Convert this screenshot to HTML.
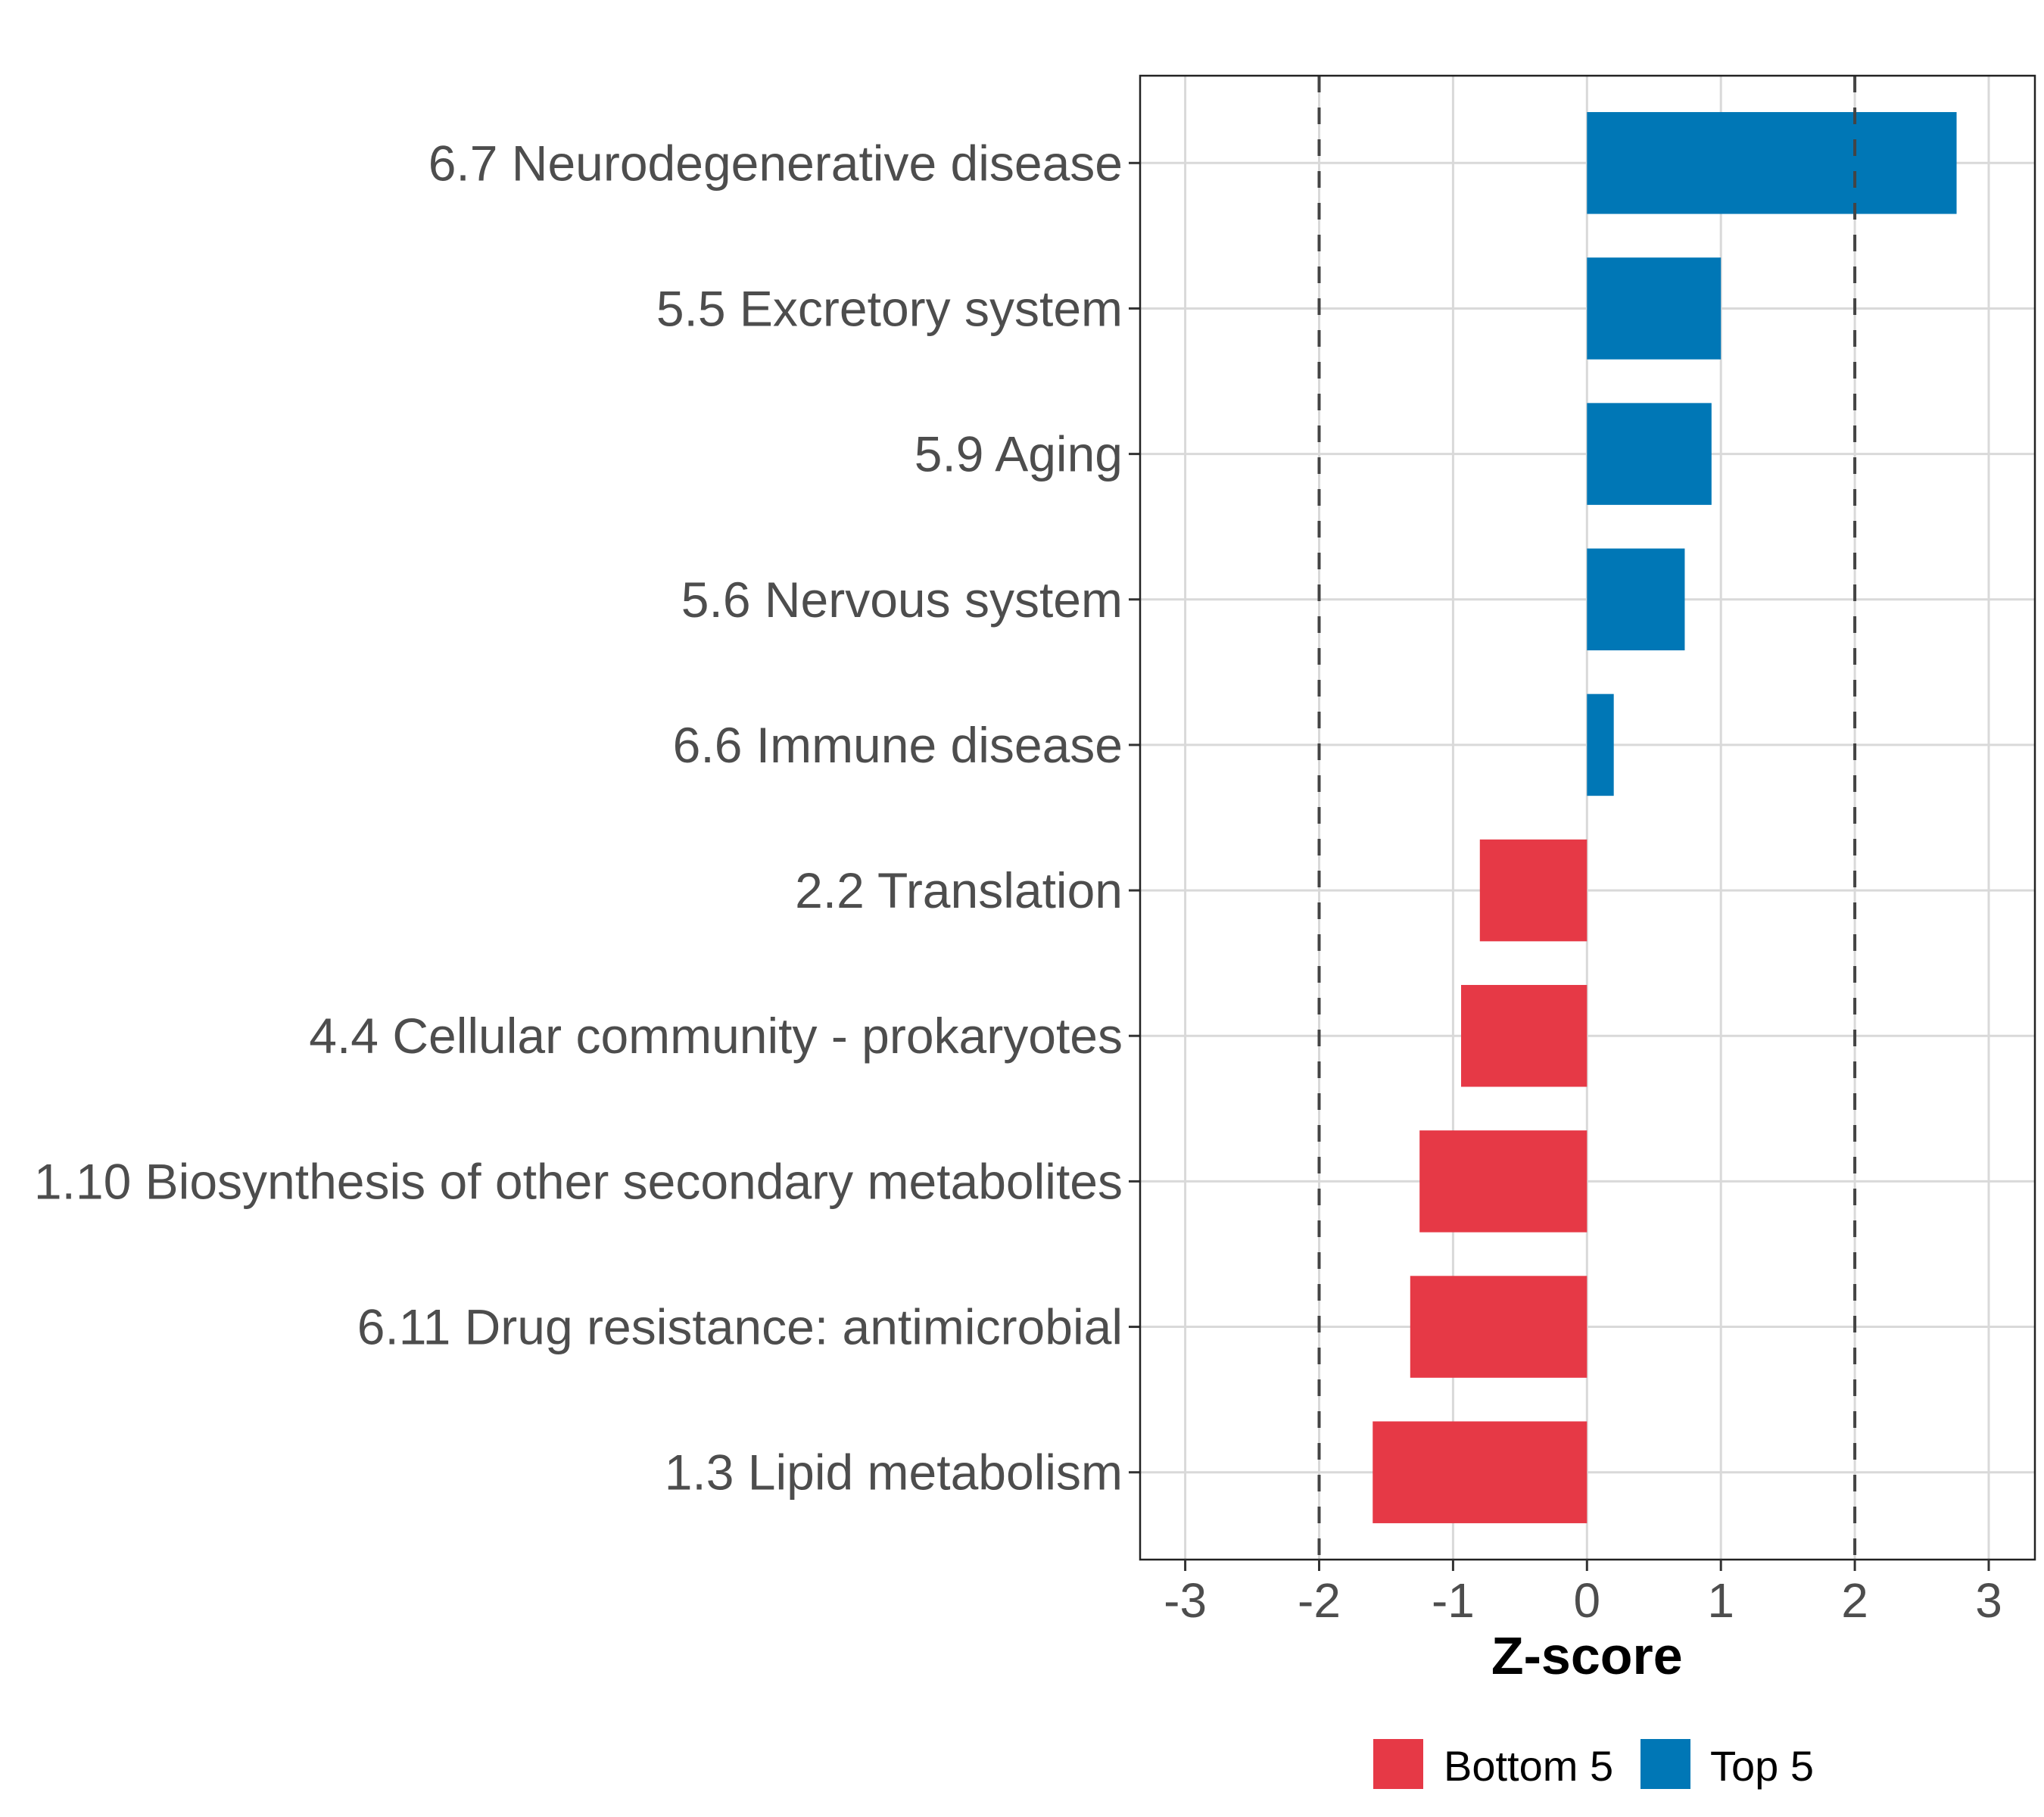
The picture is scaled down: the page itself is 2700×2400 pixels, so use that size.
<!DOCTYPE html>
<html><head><meta charset="utf-8"><style>body{margin:0;background:#fff}svg{display:block}</style></head>
<body>
<svg id="chart" width="2700" height="2400" xmlns="http://www.w3.org/2000/svg" font-family="Liberation Sans, sans-serif"></svg>
<script>
const categories = ["6.7 Neurodegenerative disease","5.5 Excretory system","5.9 Aging","5.6 Nervous system","6.6 Immune disease","2.2 Translation","4.4 Cellular community - prokaryotes","1.10 Biosynthesis of other secondary metabolites","6.11 Drug resistance: antimicrobial","1.3 Lipid metabolism"];
const zscores = [2.76, 1.0, 0.93, 0.73, 0.2, -0.80, -0.94, -1.25, -1.32, -1.60];
const groups = ["Top 5","Top 5","Top 5","Top 5","Top 5","Bottom 5","Bottom 5","Bottom 5","Bottom 5","Bottom 5"];
const xTicks = [-3,-2,-1,0,1,2,3];
const xTickLabels = ["-3","-2","-1","0","1","2","3"];
const thresholds = [-2, 2];
const legendLabels = ["Bottom 5","Top 5"];

const svg = document.getElementById('chart');
const NS = 'http://www.w3.org/2000/svg';
const L=1506,R=2688,T=100,B=2060;
const x0=2096.3, unit=176.9;
const xs = v => x0 + v*unit;
const band = (B-T)/(categories.length+0.2);
const ys = i => T + band*(0.6+i);
const colors = {"Top 5":"#0077b6","Bottom 5":"#e63946"};
function mk(tag, attrs, parent){const e=document.createElementNS(NS,tag);for(const k in attrs)e.setAttribute(k,attrs[k]);(parent||svg).appendChild(e);return e;}

const grid = mk('g',{});


xTicks.forEach(v=>{const l=mk('line',{x1:xs(v),x2:xs(v),y1:T,y2:B,stroke:'#d9d9d9','stroke-width':3},grid);

});
categories.forEach((c,i)=>{const l=mk('line',{x1:L,x2:R,y1:ys(i),y2:ys(i),stroke:'#d9d9d9','stroke-width':3},grid);

});

categories.forEach((c,i)=>{
  const v=zscores[i], h=band*0.7;
  const r=mk('rect',{x:Math.min(xs(0),xs(v)),y:ys(i)-h/2,width:Math.abs(xs(v)-xs(0)),height:h,fill:colors[groups[i]]});
  
  
  const t=mk('text',{x:1483,y:ys(i)+23,'text-anchor':'end','font-size':66,fill:'#4d4d4d'});
  t.textContent=c;
  
  
  const tk=mk('line',{x1:1491,x2:L,y1:ys(i),y2:ys(i),stroke:'#333','stroke-width':3});
  
  
});

thresholds.forEach(v=>{const l=mk('line',{x1:xs(v),x2:xs(v),y1:T,y2:B,stroke:'#444','stroke-width':4,'stroke-dasharray':'22 20'});

});

const frame=mk('rect',{x:L,y:T,width:R-L,height:B-T,fill:'none',stroke:'#222','stroke-width':2.5});



xTicks.forEach((v,i)=>{
  const tk=mk('line',{x1:xs(v),x2:xs(v),y1:B,y2:B+15,stroke:'#333','stroke-width':3});
  
  
  const t=mk('text',{x:xs(v),y:2136,'text-anchor':'middle','font-size':64,fill:'#4d4d4d'});
  t.textContent=xTickLabels[i];
  
  
});

const xt=mk('text',{x:xs(0),y:2211,'text-anchor':'middle','font-size':70,'font-weight':'bold',fill:'#000'});
xt.textContent='Z-score';



const lx=[1814,2167], tx=[1907,2259];
legendLabels.forEach((g,i)=>{
  const r=mk('rect',{x:lx[i],y:2297,width:66,height:66,fill:colors[g]});
  
  
  const t=mk('text',{x:tx[i],y:2352,'font-size':56,fill:'#000'});
  t.textContent=g;
  
  
});
</script>
</body></html>
